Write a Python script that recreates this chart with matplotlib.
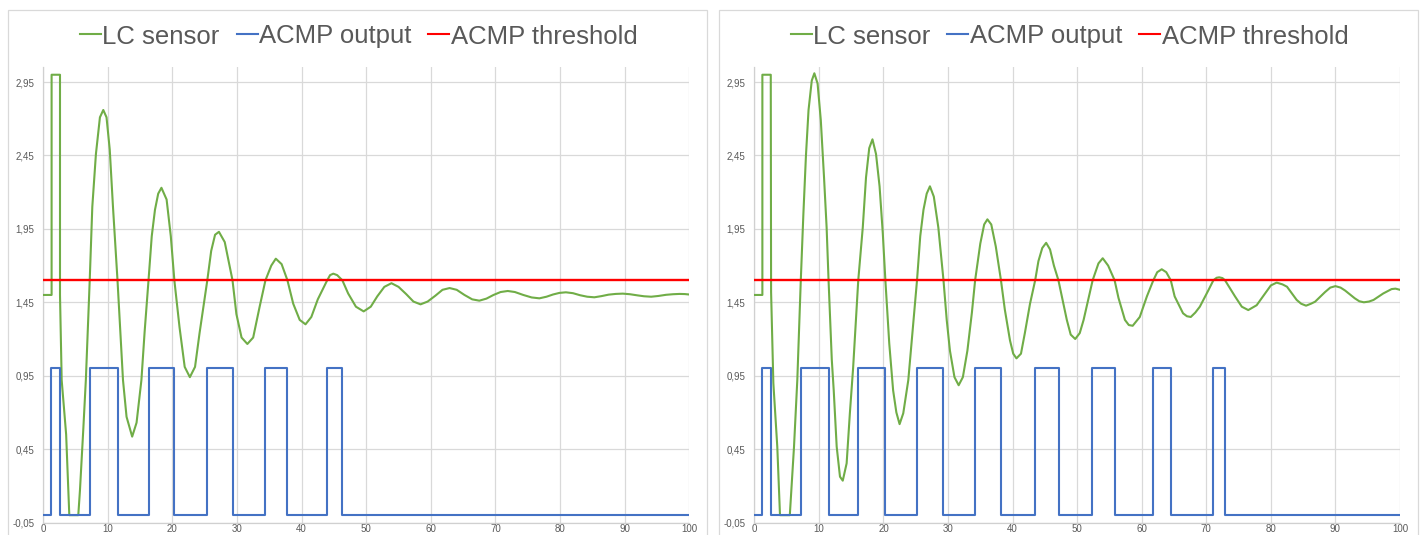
import matplotlib
matplotlib.use('Agg')
import matplotlib.pyplot as plt
from matplotlib.patches import Rectangle
from matplotlib.lines import Line2D

plt.rcParams['font.family'] = ['Liberation Sans', 'DejaVu Sans']

# ---------------- data ----------------
series_names = ['LC sensor', 'ACMP output', 'ACMP threshold']
x_ticks = [0, 10, 20, 30, 40, 50, 60, 70, 80, 90, 100]
y_ticks = [-0.05, 0.45, 0.95, 1.45, 1.95, 2.45, 2.95]
y_tick_labels = ['-0,05', '0,45', '0,95', '1,45', '1,95', '2,45', '2,95']

threshold_x = [0, 100]
threshold_y = [1.6, 1.6]

# left chart
left_lc_x = [0, 1.3, 1.3, 2.6, 2.6, 2.86, 3.55, 4.04, 5.43, 5.69, 6.2, 6.6, 7.2, 7.6, 8.16, 8.78,
             9.3, 9.8, 10.3, 10.8, 11.5, 11.9, 12.35, 12.9, 13.77, 14.45, 15.2, 15.7, 16.3, 16.8,
             17.3, 17.8, 18.3, 19.1, 19.75, 20.3, 21.1, 21.9, 22.7, 23.5, 24.2, 25.4, 26.0, 26.6,
             27.2, 28.1, 29.3, 29.9, 30.7, 31.6, 32.5, 33.5, 34.4, 35.3, 36.0, 36.9, 37.8, 38.7,
             39.7, 40.6, 41.5, 42.5, 43.9, 44.4, 44.9, 45.5, 46.3, 47.2, 48.4, 49.6, 50.7, 51.7,
             52.8, 53.9, 55.0, 56.2, 57.3, 58.4, 59.5, 60.7, 61.8, 62.9, 64.0, 65.2, 66.4, 67.5,
             68.6, 69.7, 70.8, 71.9, 73.0, 74.3, 75.6, 76.8, 77.9, 78.9, 79.9, 80.9, 82.0, 83.1,
             84.2, 85.3, 86.4, 87.5, 88.6, 89.7, 90.8, 92.0, 93.0, 94.1, 95.2, 96.4, 97.5, 98.5,
             99.3, 100]
left_lc_y = [1.5, 1.5, 3.0, 3.0, 1.5, 0.92, 0.55, 0.0, 0.0, 0.17, 0.58, 0.92, 1.60, 2.10, 2.46, 2.71,
             2.76, 2.71, 2.49, 2.10, 1.60, 1.28, 0.92, 0.67, 0.535, 0.63, 0.92, 1.25, 1.60, 1.90,
             2.08, 2.19, 2.23, 2.15, 1.90, 1.60, 1.28, 1.01, 0.94, 1.01, 1.24, 1.60, 1.80, 1.91,
             1.93, 1.86, 1.60, 1.37, 1.21, 1.166, 1.21, 1.42, 1.60, 1.70, 1.747, 1.71, 1.60, 1.44,
             1.33, 1.30, 1.35, 1.47, 1.595, 1.635, 1.645, 1.635, 1.60, 1.51, 1.42, 1.388, 1.42, 1.49,
             1.555, 1.58, 1.555, 1.505, 1.455, 1.436, 1.455, 1.495, 1.535, 1.547, 1.535, 1.50, 1.47, 1.461,
             1.475, 1.50, 1.52, 1.527, 1.52, 1.50, 1.483, 1.477, 1.488, 1.503, 1.514, 1.518, 1.512, 1.498,
             1.488, 1.484, 1.492, 1.502, 1.507, 1.509, 1.505, 1.497, 1.491, 1.488, 1.493, 1.501, 1.505, 1.507,
             1.506, 1.503]
left_acmp_x = [0, 1.25, 2.6, 7.2, 11.5, 16.3, 20.3, 25.4, 29.3, 34.4, 37.8, 43.9, 46.3, 100]
left_acmp_y = [0, 1, 0, 1, 0, 1, 0, 1, 0, 1, 0, 1, 0, 0]

# right chart
right_lc_x = [0, 1.25, 1.25, 2.55, 2.6, 2.95, 3.56, 3.98, 5.5, 6.15, 6.66, 7.2, 7.6, 8.0, 8.4, 8.9,
              9.3, 9.8, 10.3, 10.8, 11.2, 11.5, 12.0, 12.3, 12.76, 13.27, 13.7, 14.3, 14.8, 15.3,
              15.7, 16.1, 16.8, 17.3, 17.8, 18.3, 18.85, 19.4, 19.9, 20.3, 20.9, 21.5, 22.0, 22.5,
              23.07, 23.85, 24.6, 25.2, 25.7, 26.2, 26.7, 27.2, 27.8, 28.5, 29.3, 29.8, 30.3, 31.0,
              31.65, 32.3, 33.0, 33.7, 34.2, 35.0, 35.6, 36.1, 36.7, 37.4, 38.2, 38.8, 39.6, 40.1,
              40.6, 41.3, 41.9, 42.7, 43.5, 44.0, 44.6, 45.2, 45.8, 46.4, 47.1, 48.4, 49.0, 49.7,
              50.4, 51.0, 51.7, 52.4, 53.3, 53.96, 54.8, 55.8, 56.4, 57.4, 58.0, 58.6, 59.7, 60.8,
              61.8, 62.4, 63.1, 63.8, 64.5, 65.1, 66.4, 67.0, 67.6, 68.3, 69.0, 70.3, 71.1, 71.6,
              72.0, 72.5, 72.9, 74.45, 75.5, 76.5, 77.8, 79.1, 80.0, 80.9, 81.8, 82.5, 84.0, 84.7,
              85.45, 86.2, 86.85, 88.4, 89.2, 90.0, 90.8, 91.5, 93.0, 93.7, 94.4, 95.2, 95.9, 97.4,
              98.7, 99.3, 100]
right_lc_y = [1.5, 1.5, 3.0, 3.0, 1.52, 0.9, 0.466, 0.0, 0.0, 0.466, 0.92, 1.60, 2.05, 2.45, 2.76, 2.96,
              3.01, 2.94, 2.69, 2.30, 1.96, 1.60, 1.06, 0.85, 0.466, 0.262, 0.235, 0.353, 0.694, 1.0,
              1.3, 1.60, 1.96, 2.30, 2.50, 2.56, 2.46, 2.24, 1.92, 1.60, 1.17, 0.85, 0.70, 0.62,
              0.694, 0.92, 1.30, 1.60, 1.90, 2.08, 2.19, 2.24, 2.17, 1.96, 1.60, 1.33, 1.12, 0.94,
              0.885, 0.94, 1.12, 1.38, 1.60, 1.85, 1.98, 2.015, 1.98, 1.83, 1.60, 1.40, 1.19, 1.10,
              1.068, 1.10, 1.24, 1.44, 1.60, 1.73, 1.82, 1.855, 1.81, 1.70, 1.60, 1.33, 1.23, 1.20,
              1.24, 1.33, 1.465, 1.60, 1.715, 1.75, 1.70, 1.60, 1.48, 1.33, 1.295, 1.29, 1.35, 1.49,
              1.60, 1.655, 1.675, 1.655, 1.60, 1.49, 1.375, 1.355, 1.35, 1.38, 1.42, 1.53, 1.60, 1.617,
              1.62, 1.615, 1.60, 1.49, 1.42, 1.397, 1.43, 1.51, 1.565, 1.584, 1.572, 1.556, 1.466, 1.44,
              1.427, 1.44, 1.454, 1.52, 1.55, 1.56, 1.55, 1.53, 1.477, 1.457, 1.45, 1.455, 1.466, 1.51,
              1.54, 1.543, 1.535]
right_acmp_x = [0, 1.25, 2.55, 7.2, 11.5, 16.1, 20.3, 25.2, 29.3, 34.2, 38.2, 43.5, 47.2,
                52.3, 55.9, 61.8, 64.5, 71.1, 72.9, 100]
right_acmp_y = [0, 1, 0, 1, 0, 1, 0, 1, 0, 1, 0, 1, 0, 1, 0, 1, 0, 1, 0, 0]

# ---------------- style ----------------
W, H = 1426, 535
GREEN = '#70AD47'
BLUE = '#4472C4'
RED = '#FF0000'
GRID = '#D9D9D9'
TXT = '#595959'
COLORS = [GREEN, BLUE, RED]

LEG_SIZE = 18.5
LEG_HANDLE_PX = 21
LEG_PAD_PX = 1.5
LEG_GAP_PX = 17
LEG_LINE_Y = 34.3
LEG_BASELINE_Y = 43.5
TICK_SIZE = 7.0

fig = plt.figure(figsize=(W / 100, H / 100), dpi=100)


def fx(px):
    return px / W


def fy(py):
    return 1 - py / H


panels = [
    dict(border=(8.3, 707.3), axx=(43.2, 689.3), lc=(left_lc_x, left_lc_y), acmp=(left_acmp_x, left_acmp_y)),
    dict(border=(719.0, 1418.0), axx=(754.3, 1400.0), lc=(right_lc_x, right_lc_y), acmp=(right_acmp_x, right_acmp_y)),
]
ax_top, ax_bot = 67.4, 522.5

legend_jobs = []
for p in panels:
    bx0, bx1 = p['border']
    fig.patches.append(Rectangle((fx(bx0), fy(545)), fx(bx1 - bx0), (545 - 10) / H,
                                 transform=fig.transFigure, fill=False, edgecolor=GRID, lw=0.9))
    x0, x1 = p['axx']
    ax = fig.add_axes([fx(x0), fy(ax_bot), fx(x1 - x0), (ax_bot - ax_top) / H])
    ax.plot(p['lc'][0], p['lc'][1], color=GREEN, lw=1.5, solid_joinstyle='round', zorder=3,
            label=series_names[0])
    ax.plot(p['acmp'][0], p['acmp'][1], color=BLUE, lw=1.5, drawstyle='steps-post', zorder=4,
            label=series_names[1])
    ax.plot(threshold_x, threshold_y, color=RED, lw=1.7, zorder=5, label=series_names[2])
    ax.set_xlim(0, 100)
    ax.set_ylim(-0.05, 3.05)
    ax.set_xticks(x_ticks)
    ax.set_yticks(y_ticks)
    ax.set_yticklabels(y_tick_labels)
    ax.grid(True, color=GRID, lw=0.9)
    ax.set_axisbelow(True)
    for s in ('top', 'right'):
        ax.spines[s].set_visible(False)
    for s in ('left', 'bottom'):
        ax.spines[s].set_color('#D0D0D0')
        ax.spines[s].set_linewidth(0.9)
    ax.tick_params(axis='both', length=0, labelsize=TICK_SIZE, labelcolor=TXT)
    ax.tick_params(axis='y', pad=6.4)
    ax.tick_params(axis='x', pad=1.0)

    # legend entries (line + text, text aligned on a common baseline)
    texts = [fig.text(0, fy(LEG_BASELINE_Y), lab, fontsize=LEG_SIZE, color=TXT,
                      ha='left', va='baseline') for lab in series_names]
    legend_jobs.append(((bx0 + bx1) / 2 + 1, texts))

fig.canvas.draw()
renderer = fig.canvas.get_renderer()
for cx, texts in legend_jobs:
    widths = [t.get_window_extent(renderer).width for t in texts]
    total = sum(widths) + len(texts) * (LEG_HANDLE_PX + LEG_PAD_PX) + (len(texts) - 1) * LEG_GAP_PX
    x = cx - total / 2
    for t, w, c in zip(texts, widths, COLORS):
        fig.add_artist(Line2D([fx(x), fx(x + LEG_HANDLE_PX)], [fy(LEG_LINE_Y)] * 2, color=c, lw=1.5,
                              transform=fig.transFigure))
        t.set_x(fx(x + LEG_HANDLE_PX + LEG_PAD_PX))
        x += LEG_HANDLE_PX + LEG_PAD_PX + w + LEG_GAP_PX

fig.savefig('out.png', dpi=100)
